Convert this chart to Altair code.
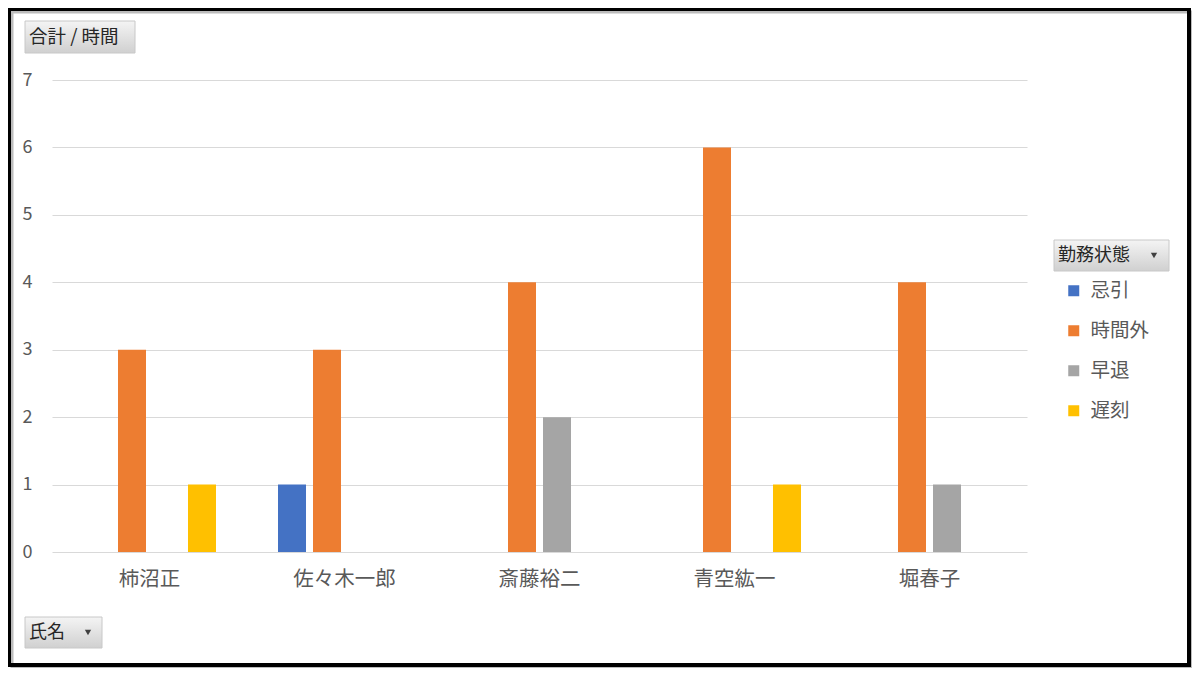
import altair as alt
import pandas as pd

names = ["柿沼正", "佐々木一郎", "斎藤裕二", "青空紘一", "堀春子"]
series = ["忌引", "時間外", "早退", "遅刻"]
v_kibiki = [0, 1, 0, 0, 0]
v_jikangai = [3, 3, 4, 6, 4]
v_soutai = [0, 0, 2, 0, 1]
v_chikoku = [1, 0, 0, 1, 0]
colors = ["#4472C4", "#ED7D31", "#A5A5A5", "#FFC000"]
y_ticks = [0, 1, 2, 3, 4, 5, 6, 7]

rows = []
for s, vals in zip(series, [v_kibiki, v_jikangai, v_soutai, v_chikoku]):
    for n, v in zip(names, vals):
        if v:
            rows.append({"氏名": n, "勤務状態": s, "時間": v})
df = pd.DataFrame(rows)

FONT = "Noto Sans CJK JP"
W, H = 975, 472

bars = alt.Chart(df).mark_bar().encode(
    x=alt.X("氏名:N", sort=names,
            scale=alt.Scale(domain=names, paddingInner=0, paddingOuter=0),
            axis=alt.Axis(title=None, labelAngle=0, labelFontSize=20.5, labelColor="#595959",
                          labelFont=FONT, ticks=False, tickSize=0, domain=False, labelPadding=17,
                          grid=False)),
    xOffset=alt.XOffset("勤務状態:N", sort=series,
                        scale=alt.Scale(domain=series, paddingInner=0.2, paddingOuter=0.886)),
    y=alt.Y("時間:Q", scale=alt.Scale(domain=[0, 7], nice=False),
            axis=alt.Axis(title=None, values=y_ticks, labelFontSize=18, labelColor="#595959",
                          labelFont=FONT, ticks=False, tickSize=0, domain=False, labelPadding=20,
                          grid=True, gridColor="#D9D9D9", gridWidth=1)),
    color=alt.Color("勤務状態:N", sort=series,
                    scale=alt.Scale(domain=series, range=colors),
                    legend=alt.Legend(title=None, orient="none", legendX=1012, legendY=201,
                                      symbolType="square", symbolSize=121, symbolStrokeWidth=0,
                                      labelFontSize=19.5, labelFont=FONT, labelColor="#595959",
                                      rowPadding=19, labelOffset=7, padding=0)),
)

one = pd.DataFrame({"k": [0]})
grad = alt.LinearGradient(gradient="linear", x1=0, y1=0, x2=0, y2=1,
                          stops=[alt.GradientStop(color="#F4F4F4", offset=0),
                                 alt.GradientStop(color="#D0D0D0", offset=1)])


def button(x1, x2, y1, y2, label, tx, arrow_x=None, fs=17):
    layers = [
        alt.Chart(one).mark_rect(fill=grad, stroke="#C8C8C8", strokeWidth=1).encode(
            x=alt.value(x1), x2=alt.value(x2), y=alt.value(y1), y2=alt.value(y2)),
        alt.Chart(one).mark_text(text=label, align="left", baseline="middle", font=FONT,
                                 fontSize=fs, color="#262626").encode(
            x=alt.value(tx), y=alt.value((y1 + y2) / 2)),
    ]
    if arrow_x is not None:
        layers.append(alt.Chart(one).mark_point(shape="triangle-down", filled=True, size=40,
                                                color="#404040", opacity=1).encode(
            x=alt.value(arrow_x), y=alt.value((y1 + y2) / 2)))
    return layers


border_shadow = alt.Chart(one).mark_rect(fill=None, stroke="#A0A0A0", strokeWidth=3,
                                         opacity=0.7).encode(
    x=alt.value(-40), x2=alt.value(1140), y=alt.value(-68), y2=alt.value(588))
border = alt.Chart(one).mark_rect(fill=None, stroke="#000000", strokeWidth=4).encode(
    x=alt.value(-43), x2=alt.value(1137), y=alt.value(-71), y2=alt.value(585))

layers = [border_shadow, border, bars]
layers += button(-27, 83, -59, -27, "合計 / 時間", -23, None, 18.5)
layers += button(-27, 50, 537, 568, "氏名", -23, 36, 18)
layers += button(1002, 1117, 160, 191, "勤務状態", 1006, 1102, 18)

chart = alt.layer(*layers).properties(
    width=W, height=H,
    autosize=alt.AutoSizeParams(type="none"),
    padding={"left": 44, "top": 72, "right": 165, "bottom": 116},
).configure(background="white").configure_view(strokeWidth=0, stroke="transparent")

chart.save("out.html", embed_options={"renderer": "svg", "actions": False})
